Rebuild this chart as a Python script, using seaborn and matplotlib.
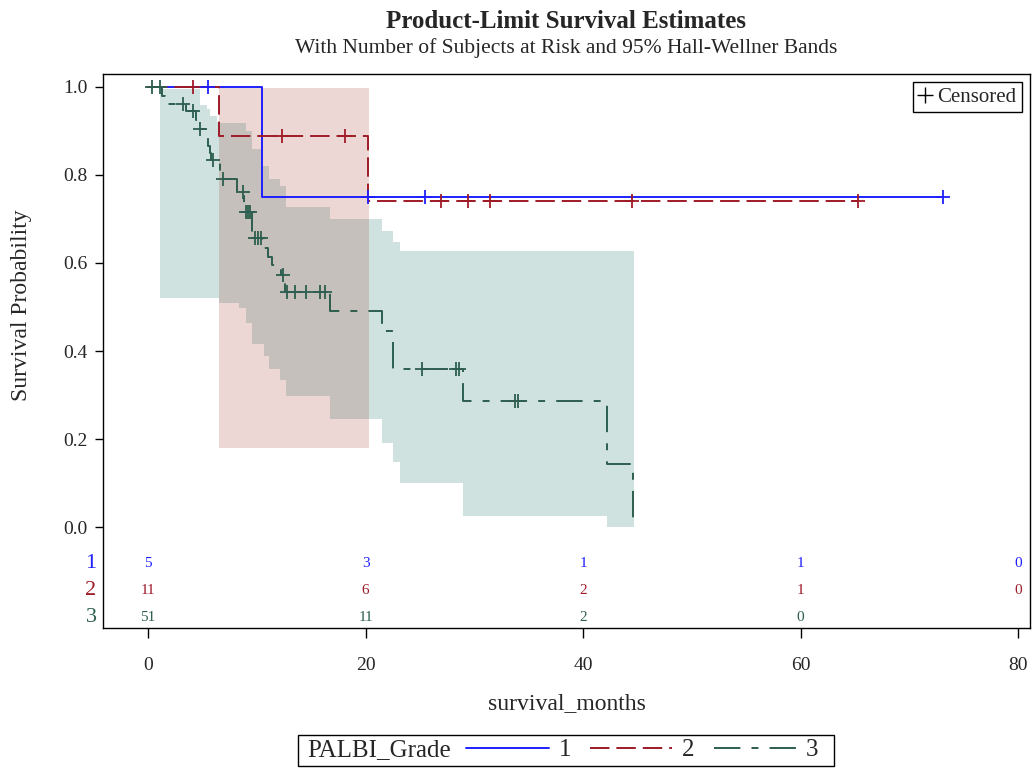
import numpy as np
import pandas as pd
import matplotlib
matplotlib.use("Agg")
import matplotlib.pyplot as plt
from matplotlib.lines import Line2D
from matplotlib.patches import Rectangle
import seaborn as sns

# step curves (time in months, survival after the step)
g1_times = [0, 10.5, 73.1]
g1_surv = [1.0, 0.75, 0.75]
g2_times = [0, 6.5, 20.2, 65.3]
g2_surv = [1.0, 0.889, 0.741, 0.741]
g3_times = [0, 1.3, 1.6, 3.5, 4.4, 4.6, 5.3, 5.5, 5.7, 5.8, 6.6, 8.2, 8.85, 9.6,
            10.5, 11.0, 11.4, 12.2, 12.6, 16.7, 21.5, 22.5, 29.0, 42.2, 44.6]
g3_surv = [1.0, 0.980, 0.961, 0.945, 0.925, 0.905, 0.885, 0.865, 0.85, 0.835, 0.79, 0.762, 0.716, 0.657,
           0.634, 0.614, 0.595, 0.573, 0.534, 0.49, 0.445, 0.359, 0.287, 0.143, 0.0]

# censored times
g1_cens = [5.5, 20.2, 25.5, 73.1]
g2_cens = [4.1, 12.3, 18.1, 26.9, 29.4, 31.4, 44.5, 65.3]
g3_cens = [0.4, 1.1, 3.2, 4.1, 4.8, 6.0, 6.9, 8.7, 9.0, 9.2, 9.4, 9.8, 10.1, 10.4,
           12.4, 12.8, 13.5, 14.5, 15.8, 16.3, 25.2, 28.3, 28.6, 33.7, 34.0]

# Hall-Wellner bands (step-post)
g2_band_t = [6.5, 20.3]
g2_band_lo = [0.18, 0.18]
g2_band_hi = [0.998, 0.998]
g3_band_t = [1.1, 4.8, 5.4, 5.7, 6.3, 6.5, 8.4, 9.0, 9.6, 10.5, 10.7, 11.1, 12.1, 12.7,
             16.7, 21.5, 22.5, 23.2, 29.0, 42.2, 44.7]
g3_band_hi = [0.995, 0.96, 0.95, 0.935, 0.92, 0.918, 0.918, 0.90, 0.86, 0.82, 0.82, 0.79, 0.775, 0.727,
              0.70, 0.673, 0.648, 0.627, 0.627, 0.627, 0.627]
g3_band_lo = [0.52, 0.52, 0.52, 0.52, 0.52, 0.51, 0.497, 0.464, 0.415, 0.415, 0.389, 0.358, 0.334, 0.298,
              0.245, 0.19, 0.148, 0.10, 0.025, 0.0, 0.0]

# number at risk
risk_times = [0, 20, 40, 60, 80]
g1_risk = [5, 3, 1, 1, 0]
g2_risk = [11, 6, 2, 1, 0]
g3_risk = [51, 11, 2, 0]

groups = ["1", "2", "3"]
colors = {"1": "#1f1fff", "2": "#9e1b28", "3": "#2d5e4f"}
dashes = {"1": "solid", "2": (0, (14, 5)), "3": (0, (19, 8, 5, 8))}

sns.set_style("ticks")
plt.rcParams["font.family"] = ["Liberation Serif", "DejaVu Serif"]
plt.rcParams["lines.scale_dashes"] = False

fig = plt.figure(figsize=(10.32, 7.68), dpi=100)
ax = fig.add_axes([103 / 1032, 1 - 628 / 768, 927 / 1032, 554 / 768])

# bands
ax.fill_between(g3_band_t, g3_band_lo, g3_band_hi, step="post", color="#01665E", alpha=0.19, lw=0)
ax.fill_between(g2_band_t, g2_band_lo, g2_band_hi, step="post", color="#A23A2E", alpha=0.2, lw=0)

curves = {"1": (g1_times, g1_surv, g1_cens), "2": (g2_times, g2_surv, g2_cens), "3": (g3_times, g3_surv, g3_cens)}
for g in ["3", "1", "2"]:
    t, s, c = curves[g]
    df = pd.DataFrame({"t": t, "s": s})
    sns.lineplot(data=df, x="t", y="s", ax=ax, color=colors[g], linestyle=dashes[g], lw=1.4,
                 drawstyle="steps-post", estimator=None, sort=False)
    idx = np.searchsorted(t, c, side="right") - 1
    cy = np.array(s)[idx]
    sns.scatterplot(x=c, y=cy, ax=ax, marker="+", s=90, color=colors[g], linewidth=1.3, zorder=5)

# at-risk table inside the axes
rows_y = [-0.084, -0.145, -0.205]
risks = {"1": g1_risk, "2": g2_risk, "3": g3_risk}
trans = ax.get_yaxis_transform()
for g, ry in zip(groups, rows_y):
    for x, n in zip(risk_times, risks[g]):
        ax.text(x, ry, str(n), color=colors[g], fontsize=11, ha="center", va="center")
    ax.text(-0.007, ry, g, color=colors[g], fontsize=16, ha="right", va="center", transform=trans)

ax.set_xlim(-4.14, 81.1)
ax.set_ylim(-0.2295, 1.0295)
ax.set_xticks([0, 20, 40, 60, 80])
ax.set_yticks([0.0, 0.2, 0.4, 0.6, 0.8, 1.0])
ax.set_yticklabels(["0.0", "0.2", "0.4", "0.6", "0.8", "1.0"])
ax.tick_params(axis="x", labelsize=14, length=7, width=1, pad=14, color="black")
ax.tick_params(axis="y", labelsize=14, length=6, width=1, pad=5, color="black")
for sp in ax.spines.values():
    sp.set_visible(True)
    sp.set_color("black")
    sp.set_linewidth(1.0)
ax.set_xlabel("")
ax.set_ylabel("")

leg = ax.legend(handles=[Line2D([], [], marker="+", linestyle="none", color="black", markersize=11)],
                labels=["Censored"], loc="upper right", frameon=True, fancybox=False, edgecolor="black",
                framealpha=1, handlelength=0.6, handletextpad=0.3, borderpad=0.25, borderaxespad=0.4,
                fontsize=15)
leg.get_frame().set_linewidth(1.0)

fig.text(566 / 1032, 1 - 21 / 768, "Product-Limit Survival Estimates", ha="center", va="center",
         fontsize=18, fontweight="bold")
fig.text(566 / 1032, 1 - 48 / 768, "With Number of Subjects at Risk and 95% Hall-Wellner Bands",
         ha="center", va="center", fontsize=15.5)
fig.text(567 / 1032, 1 - 704 / 768, "survival_months", ha="center", va="center", fontsize=17)
fig.text(22 / 1032, 1 - 305 / 768, "Survival Probability", ha="center", va="center", fontsize=17,
         rotation=90)

# group legend at the bottom
fig.patches.append(Rectangle((298 / 1032, 1 - 766 / 768), 536 / 1032, 31 / 768, transform=fig.transFigure,
                             fill=False, edgecolor="black", lw=1.0))
fig.text(307 / 1032, 1 - 750 / 768, "PALBI_Grade", ha="left", va="center", fontsize=18)
handles = [Line2D([], [], color=colors[g], linestyle=dashes[g], lw=1.4) for g in groups]
fig.legend(handles, groups, ncol=3, frameon=False, loc="center left",
           bbox_to_anchor=(466 / 1032, 1 - 750 / 768), fontsize=18, handlelength=3.3,
           handletextpad=0.4, columnspacing=0.75, borderpad=0.0, borderaxespad=0.0)

fig.savefig("out.png", dpi=100)
